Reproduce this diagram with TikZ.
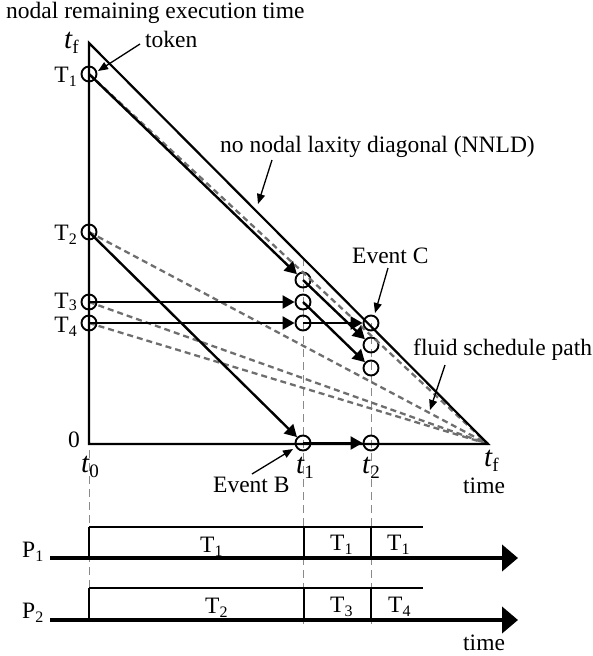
\documentclass[tikz,border=0pt]{standalone}
\usepackage{fontspec}
\setmainfont{Liberation Serif}
\usetikzlibrary{arrows.meta}
\definecolor{fluidgray}{HTML}{6E6E6E}
\definecolor{guidegray}{HTML}{8A8A8A}
\newcommand{\tlab}[1]{{\fontsize{29}{30}\selectfont\itshape t}\raisebox{-5pt}{\fontsize{19}{20}\selectfont #1}}
\newcommand{\Tlab}[2]{#1\raisebox{-4pt}{\fontsize{16}{17}\selectfont #2}}
\newcommand{\Tlabs}[2]{#1\raisebox{-2.5pt}{\fontsize{16}{17}\selectfont #2}}
\begin{document}
\begin{tikzpicture}[x=1pt,y=-1pt,font=\fontsize{23.5}{26}\selectfont,
  lbl/.style={inner sep=0pt,anchor=base west},
  lble/.style={inner sep=0pt,anchor=base east},
  tok/.style={circle,draw,line width=1.9pt,minimum size=15pt,inner sep=0pt},
  flow/.style={line width=2.4pt,-{Triangle[length=12pt,width=13pt]}},
  axisline/.style={line width=2.2pt,line join=miter},
  fluid/.style={draw=fluidgray,line width=2.3pt,dash pattern=on 6pt off 4pt},
  guide/.style={draw=guidegray,line width=1pt,dash pattern=on 8pt off 5pt},
  callout/.style={line width=1.3pt,-{Triangle[length=10pt,width=8pt]}},
  ganttbar/.style={line width=4pt,-{Triangle[length=16pt,width=26pt]}},
  boxtop/.style={line width=1.5pt},
  boxside/.style={line width=2.2pt}]
\useasboundingbox (0,0) rectangle (592,656);

% axis corners
\coordinate (Top) at (89,43);
\coordinate (O) at (89,444);
\coordinate (TF) at (488,444);

% guide lines
\coordinate (g0a) at (89,450);  \coordinate (g0b) at (89,622);
\coordinate (g1a) at (303,258); \coordinate (g1b) at (303,624);
\coordinate (g2a) at (371,323); \coordinate (g2b) at (371,624);
\draw[guide] (g0a) -- (g0b);
\draw[guide] (g1a) -- (g1b);
\draw[guide] (g2a) -- (g2b);

% tokens
\node[tok] (T1) at (89,74) {};
\node[tok] (T2) at (89,232) {};
\node[tok] (T3) at (89,302) {};
\node[tok] (T4) at (89,323) {};
\node[tok] (A1) at (303,280) {};
\node[tok] (A2) at (303,302) {};
\node[tok] (A3) at (303,323) {};
\node[tok] (A4) at (303,443) {};
\node[tok] (B1) at (371,323) {};
\node[tok] (B2) at (371,345) {};
\node[tok] (B3) at (371,368) {};
\node[tok] (B4) at (371,443) {};

% fluid schedule paths
\draw[fluid] (T1.center) -- (TF);
\draw[fluid] (T2.center) -- (TF);
\draw[fluid] (T3.center) -- (TF);
\draw[fluid] (T4.center) -- (TF);

% axes and NNLD
\draw[axisline] (Top) -- (O) -- (TF) -- cycle;

% token flows
\draw[flow] (T1.center) -- (A1);
\draw[flow] (T2.center) -- (A4);
\draw[flow] (T3.center) -- (A2);
\draw[flow] (T4.center) -- (A3);
\draw[flow] (A1.center) -- (B2);
\draw[flow] (A2.center) -- (B3);
\draw[flow] (A3.center) -- (B1);
\draw[flow] (A4.center) -- (B4);

% labels on plot
\node[lbl] (ylab) at (6,18) {nodal remaining execution time};
\node[lbl] (tftop) at (64,48) {\tlab{f}};
\node[lble] (lT1) at (77,82) {\Tlab{T}{1}};
\node[lble] (lT2) at (77,240) {\Tlab{T}{2}};
\node[lble] (lT3) at (77,308) {\Tlabs{T}{3}};
\node[lble] (lT4) at (77,332) {\Tlab{T}{4}};
\node[lble] (zero) at (80,447) {0};
\node[lbl] (t0) at (81,472) {\tlab{0}};
\node[lbl] (t1) at (296,473) {\tlab{1}};
\node[lbl] (t2) at (362,473) {\tlab{2}};
\node[lbl] (tfb) at (484,466) {\tlab{f}};
\node[lbl] (time1) at (463,493) {time};

% callouts
\node[lbl] (token) at (145,47) {token};
\coordinate (tokA) at (140,44); \coordinate (tokB) at (98,71);
\draw[callout] (tokA) -- (tokB);
\node[lbl] (nnld) at (220,152) {no nodal laxity diagonal (NNLD)};
\coordinate (nnA) at (272,160); \coordinate (nnB) at (258,204);
\draw[callout] (nnA) -- (nnB);
\node[lbl] (evC) at (352,263) {Event C};
\coordinate (ecA) at (388,268); \coordinate (ecB) at (375,313);
\draw[callout] (ecA) -- (ecB);
\node[lbl] (evB) at (213,492) {Event B};
\coordinate (ebA) at (252,474); \coordinate (ebB) at (293,449);
\draw[callout] (ebA) -- (ebB);
\node[lbl] (fsp) at (413,355) {fluid schedule path};
\coordinate (fsA) at (445,365); \coordinate (fsB) at (430,410);
\draw[callout] (fsA) -- (fsB);

% Gantt chart P1
\coordinate (P1s) at (50,558); \coordinate (P1e) at (518,558);
\draw[ganttbar] (P1s) -- (P1e);
\draw[boxtop] (89,527) -- (423,527);
\draw[boxside] (89,527) -- (89,558);
\draw[boxside] (304,527) -- (304,558);
\draw[boxside] (371,527) -- (371,558);
\node[lbl] (lP1) at (22,557) {\Tlab{P}{1}};
\node[lbl] (g11) at (200,552) {\Tlab{T}{1}};
\node[lbl] (g12) at (330,550) {\Tlab{T}{1}};
\node[lbl] (g13) at (387,550) {\Tlab{T}{1}};

% Gantt chart P2
\coordinate (P2s) at (50,620); \coordinate (P2e) at (518,620);
\draw[ganttbar] (P2s) -- (P2e);
\draw[boxtop] (89,588) -- (423,588);
\draw[boxside] (89,588) -- (89,620);
\draw[boxside] (304,588) -- (304,620);
\draw[boxside] (371,588) -- (371,620);
\node[lbl] (lP2) at (22,618) {\Tlab{P}{2}};
\node[lbl] (g21) at (205,613) {\Tlab{T}{2}};
\node[lbl] (g22) at (330,612) {\Tlab{T}{3}};
\node[lbl] (g23) at (388,612) {\Tlab{T}{4}};
\node[lbl] (time2) at (463,650) {time};
\end{tikzpicture}
\end{document}
